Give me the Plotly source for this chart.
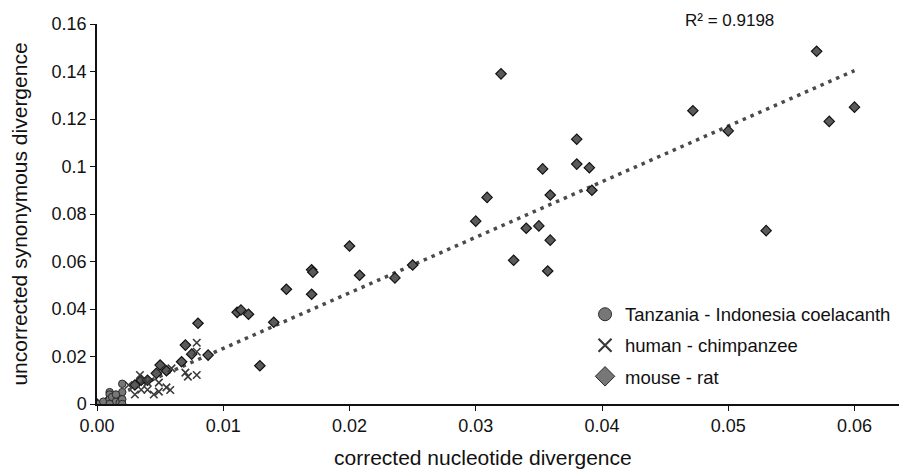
import plotly.graph_objects as go

# ---- data ----
coel_x = [0.0000, 0.0005, 0.0010, 0.0010, 0.0010, 0.0012, 0.0015, 0.0018, 0.0020, 0.0020, 0.0020, 0.0020, 0.0010, 0.0015]
coel_y = [0.0000, 0.0010, 0.0050, 0.0040, 0.0020, 0.0030, 0.0010, 0.0005, 0.0085, 0.0050, 0.0020, 0.0000, 0.0000, 0.0040]

hc_x = [0.0025, 0.0034, 0.0030, 0.0035, 0.0037, 0.0040, 0.0045, 0.0049, 0.0049, 0.0055, 0.0058, 0.0059, 0.0070, 0.0072, 0.0079, 0.0079, 0.0079, 0.0040]
hc_y = [0.0080, 0.0122, 0.0040, 0.0060, 0.0100, 0.0090, 0.0040, 0.0090, 0.0052, 0.0070, 0.0059, 0.0150, 0.0132, 0.0115, 0.0122, 0.0258, 0.0220, 0.0060]

mr_x = [0.0000, 0.0010, 0.0015, 0.0030, 0.0035, 0.0040, 0.0050, 0.0055, 0.0047, 0.0067, 0.0070, 0.0075, 0.0080, 0.0088,
        0.0111, 0.0114, 0.0120, 0.0129, 0.0140, 0.0150, 0.0170, 0.0171, 0.0170, 0.0200, 0.0208, 0.0236, 0.0250,
        0.0300, 0.0309, 0.0320, 0.0330, 0.0340, 0.0350, 0.0353, 0.0359, 0.0359, 0.0357, 0.0380, 0.0380,
        0.0390, 0.0392, 0.0472, 0.0500, 0.0530, 0.0570, 0.0580, 0.0600]
mr_y = [0.0000, 0.0020, 0.0030, 0.0080, 0.0100, 0.0100, 0.0164, 0.0140, 0.0129, 0.0178, 0.0248, 0.0210, 0.0340, 0.0206,
        0.0386, 0.0396, 0.0378, 0.0161, 0.0344, 0.0483, 0.0565, 0.0555, 0.0462, 0.0665, 0.0542, 0.0531, 0.0585,
        0.0770, 0.0870, 0.1390, 0.0605, 0.0740, 0.0750, 0.0990, 0.0880, 0.0690, 0.0560, 0.1115, 0.1010,
        0.0995, 0.0900, 0.1235, 0.1150, 0.0730, 0.1485, 0.1190, 0.1250]

trend_x = [0.0, 0.060]
trend_slope = 2.34
trend_intercept = 0.0
r2_text = "R\u00b2 = 0.9198"

legend_names = ["Tanzania - Indonesia coelacanth", "human - chimpanzee", "mouse - rat"]
x_ticks = [0.00, 0.01, 0.02, 0.03, 0.04, 0.05, 0.06]
y_ticks = [0, 0.02, 0.04, 0.06, 0.08, 0.10, 0.12, 0.14, 0.16]
y_tick_text = ["0", "0.02", "0.04", "0.06", "0.08", "0.1", "0.12", "0.14", "0.16"]
x_title = "corrected nucleotide divergence"
y_title = "uncorrected synonymous divergence"

FONT = "Liberation Sans, Arial, Helvetica, sans-serif"

fig = go.Figure()

trend_y = [trend_slope * v + trend_intercept for v in trend_x]
fig.add_trace(go.Scatter(x=trend_x, y=trend_y, mode="lines", showlegend=False,
                         line=dict(color="#4a4a4a", width=3.5, dash="3.5px,5px"), hoverinfo="skip"))

fig.add_trace(go.Scatter(x=mr_x, y=mr_y, mode="markers", showlegend=False,
                         marker=dict(symbol="diamond", size=8, color="#5a5a5a",
                                     line=dict(color="#111111", width=1.2))))
fig.add_trace(go.Scatter(x=hc_x, y=hc_y, mode="markers", showlegend=False,
                         marker=dict(symbol="x-thin", size=7.5, color="#3a3a3a",
                                     line=dict(color="#3a3a3a", width=1.6))))
fig.add_trace(go.Scatter(x=coel_x, y=coel_y, mode="markers", showlegend=False,
                         marker=dict(symbol="circle", size=7.5, color="#777777",
                                     line=dict(color="#2a2a2a", width=1))))

# legend-only entries (larger symbols as in the reference)
fig.add_trace(go.Scatter(x=[None], y=[None], mode="markers", name=legend_names[0], legendgroup="a",
                         marker=dict(symbol="circle", size=13, color="#777777",
                                     line=dict(color="#2a2a2a", width=1))))
fig.add_trace(go.Scatter(x=[None], y=[None], mode="markers", name=legend_names[1], legendgroup="b",
                         marker=dict(symbol="x-thin", size=13, color="#3a3a3a",
                                     line=dict(color="#3a3a3a", width=2.2))))
fig.add_trace(go.Scatter(x=[None], y=[None], mode="markers", name=legend_names[2], legendgroup="c",
                         marker=dict(symbol="diamond", size=15, color="#777777",
                                     line=dict(color="#2a2a2a", width=1))))

fig.add_annotation(text=r2_text, xref="paper", yref="paper", x=0.783, y=1.0105,
                   xanchor="center", yanchor="middle", showarrow=False,
                   font=dict(family=FONT, size=17, color="#111"))
fig.add_annotation(text=x_title, xref="paper", yref="paper", x=0.478, y=-0.142,
                   xanchor="center", yanchor="middle", showarrow=False,
                   font=dict(family=FONT, size=21, color="#111"))

fig.update_layout(
    width=899, height=461,
    margin=dict(l=89, r=2, t=16, b=65, autoexpand=False),
    paper_bgcolor="white", plot_bgcolor="white",
    font=dict(family=FONT, size=18, color="#111"),
    legend=dict(x=0.604, y=0.285, xanchor="left", yanchor="top",
                bgcolor="rgba(0,0,0,0)", font=dict(family=FONT, size=18.5, color="#111"),
                itemwidth=30, traceorder="grouped", tracegroupgap=4),
    xaxis=dict(range=[0, 0.064], tickvals=x_ticks, tickformat=".2f",
               showgrid=False, zeroline=False, showline=True, linecolor="#111", linewidth=1.5,
               ticks="outside", ticklen=5, tickcolor="#111",
               tickfont=dict(family=FONT, size=18)),
    yaxis=dict(range=[0, 0.16], tickvals=y_ticks, ticktext=y_tick_text,
               showgrid=False, zeroline=False, showline=True, linecolor="#111", linewidth=1.5,
               ticks="outside", ticklen=5, tickcolor="#111",
               tickfont=dict(family=FONT, size=18),
               title=dict(text=y_title, standoff=20,
                          font=dict(family=FONT, size=21))),
)

fig.write_html("out.html")
